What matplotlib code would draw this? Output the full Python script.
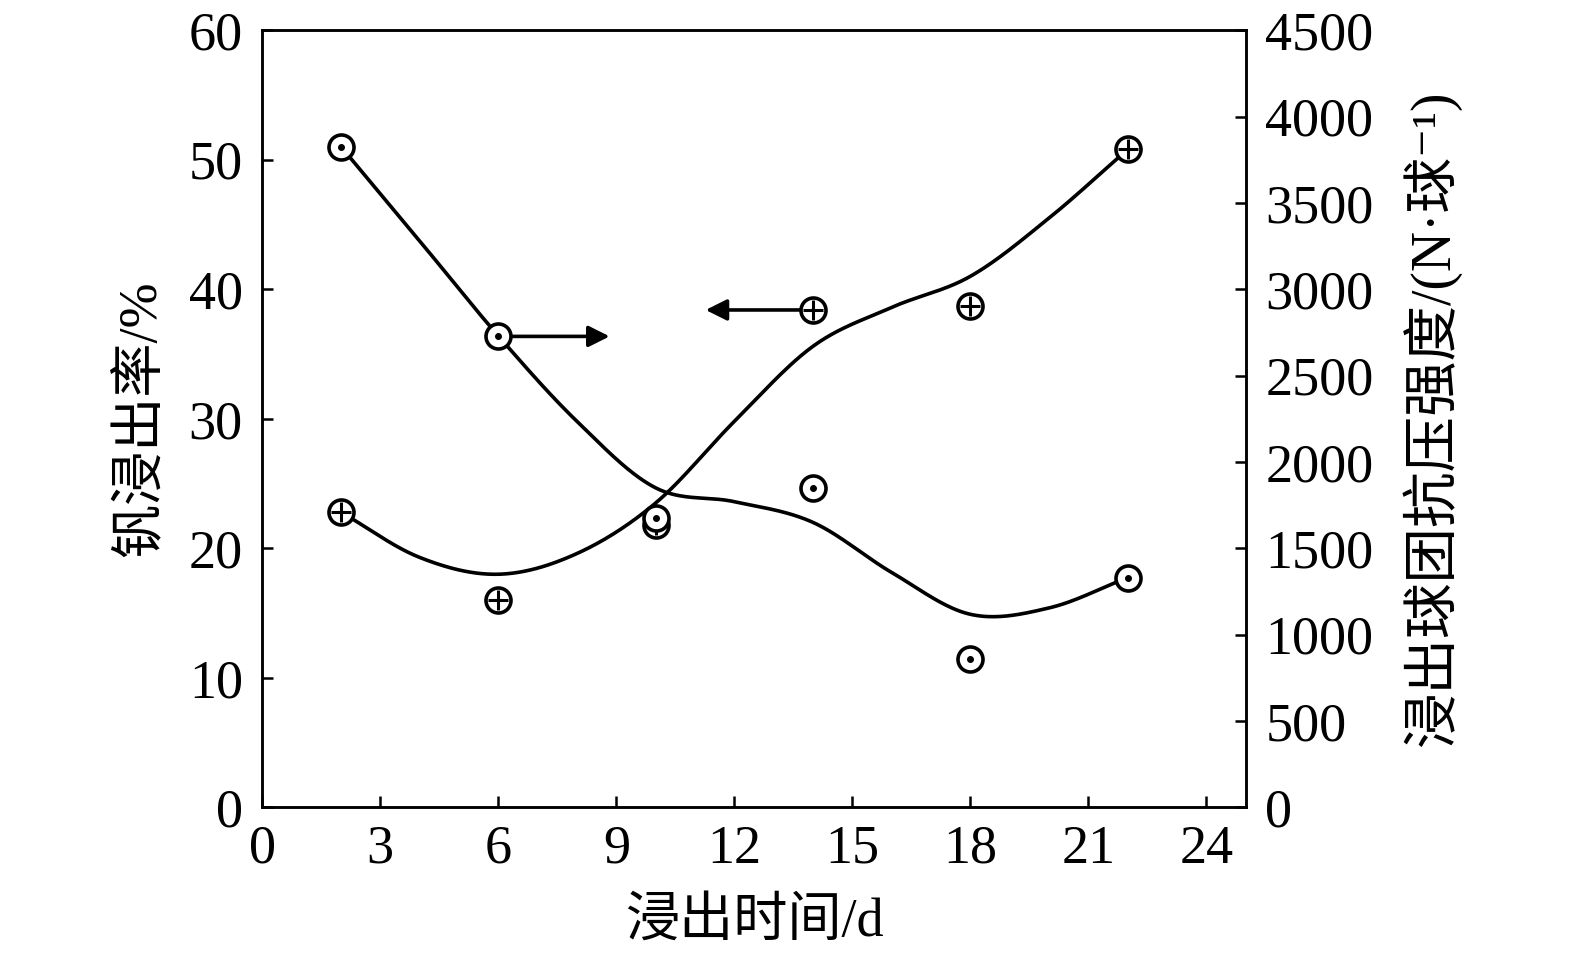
import numpy as np
import matplotlib.pyplot as plt

# 测量数据
days = [2, 6, 10, 14, 18, 22]
v_leach = [22.8, 16.0, 21.8, 38.4, 38.7, 50.8]          # 钒浸出率 / %
strength = [3826, 2727, 1674, 1849, 860, 1331]           # 抗压强度 / (N/球)

# 拟合曲线（从图上读取的节点）
fit_x = [2, 4, 6, 8, 10, 12, 14, 16, 18, 20, 22]
fit_leach = [22.8, 19.3, 18.0, 19.6, 23.5, 29.8, 35.6, 38.6, 41.0, 45.5, 50.8]
fit_strength = [3826, 3280, 2730, 2235, 1850, 1770, 1650, 1360, 1118, 1155, 1331]


def smooth(xs, ys, n=40):
    # Catmull-Rom 曲线，只用于画平滑线
    xs = np.asarray(xs, float)
    ys = np.asarray(ys, float)
    px = np.concatenate([[2 * xs[0] - xs[1]], xs, [2 * xs[-1] - xs[-2]]])
    py = np.concatenate([[2 * ys[0] - ys[1]], ys, [2 * ys[-1] - ys[-2]]])
    outx, outy = [], []
    for i in range(1, len(px) - 2):
        t = np.linspace(0, 1, n)
        for p, out in ((px, outx), (py, outy)):
            p0, p1, p2, p3 = p[i - 1], p[i], p[i + 1], p[i + 2]
            out.extend(0.5 * ((2 * p1) + (-p0 + p2) * t
                              + (2 * p0 - 5 * p1 + 4 * p2 - p3) * t ** 2
                              + (-p0 + 3 * p1 - 3 * p2 + p3) * t ** 3))
    return np.array(outx), np.array(outy)


plt.rcParams["font.family"] = ["Liberation Serif", "Noto Sans CJK SC", "DejaVu Sans"]

fig = plt.figure(figsize=(15.75, 9.57), dpi=100)
ax = fig.add_axes([0.1665, 0.1563, 0.6245, 0.8122])
ax2 = ax.twinx()

lw = 2.6
ms = 18

sx, sy = smooth(fit_x, fit_leach)
ax.plot(sx, sy, color="black", lw=lw)
ax.plot(days, v_leach, "o", ms=ms, mfc="white", mec="black", mew=2.6, zorder=4)
ax.plot(days, v_leach, "+", ms=ms * 0.8, mec="black", mew=2.2, zorder=5)

sx2, sy2 = smooth(fit_x, fit_strength)
ax2.plot(sx2, sy2, color="black", lw=lw)
ax2.plot(days, strength, "o", ms=ms, mfc="white", mec="black", mew=2.6, zorder=4)
ax2.plot(days, strength, "o", ms=4, mfc="black", mec="black", zorder=5)

# 指向坐标轴的箭头
ax2.annotate("", xy=(8.9, strength[1]), xytext=(6.2, strength[1]),
             arrowprops=dict(arrowstyle="-|>", color="black", lw=2.6,
                             mutation_scale=32))
ax.annotate("", xy=(11.2, v_leach[3]), xytext=(13.8, v_leach[3]),
            arrowprops=dict(arrowstyle="-|>", color="black", lw=2.6,
                            mutation_scale=32))

ax.set_xlim(0, 25)
ax.set_ylim(0, 60)
ax2.set_ylim(0, 4500)
ax.set_xticks(range(0, 25, 3))
ax.set_yticks(range(0, 61, 10))
ax2.set_yticks(range(0, 4501, 500))

for a in (ax, ax2):
    a.tick_params(direction="in", labelsize=39, length=8, width=1.8, pad=10)
    for s in a.spines.values():
        s.set_linewidth(1.8)
ax.tick_params(axis="x", pad=12)
ax.tick_params(axis="y", pad=14)
ax2.tick_params(axis="y", pad=14)

ax.set_xlabel("浸出时间/d", fontsize=39, labelpad=16)
ax.set_ylabel("钒浸出率/%", fontsize=39, labelpad=16)
ax2.set_ylabel("浸出球团抗压强度/(N·球⁻¹)", fontsize=40, labelpad=20)

fig.savefig("out.png", dpi=100)
